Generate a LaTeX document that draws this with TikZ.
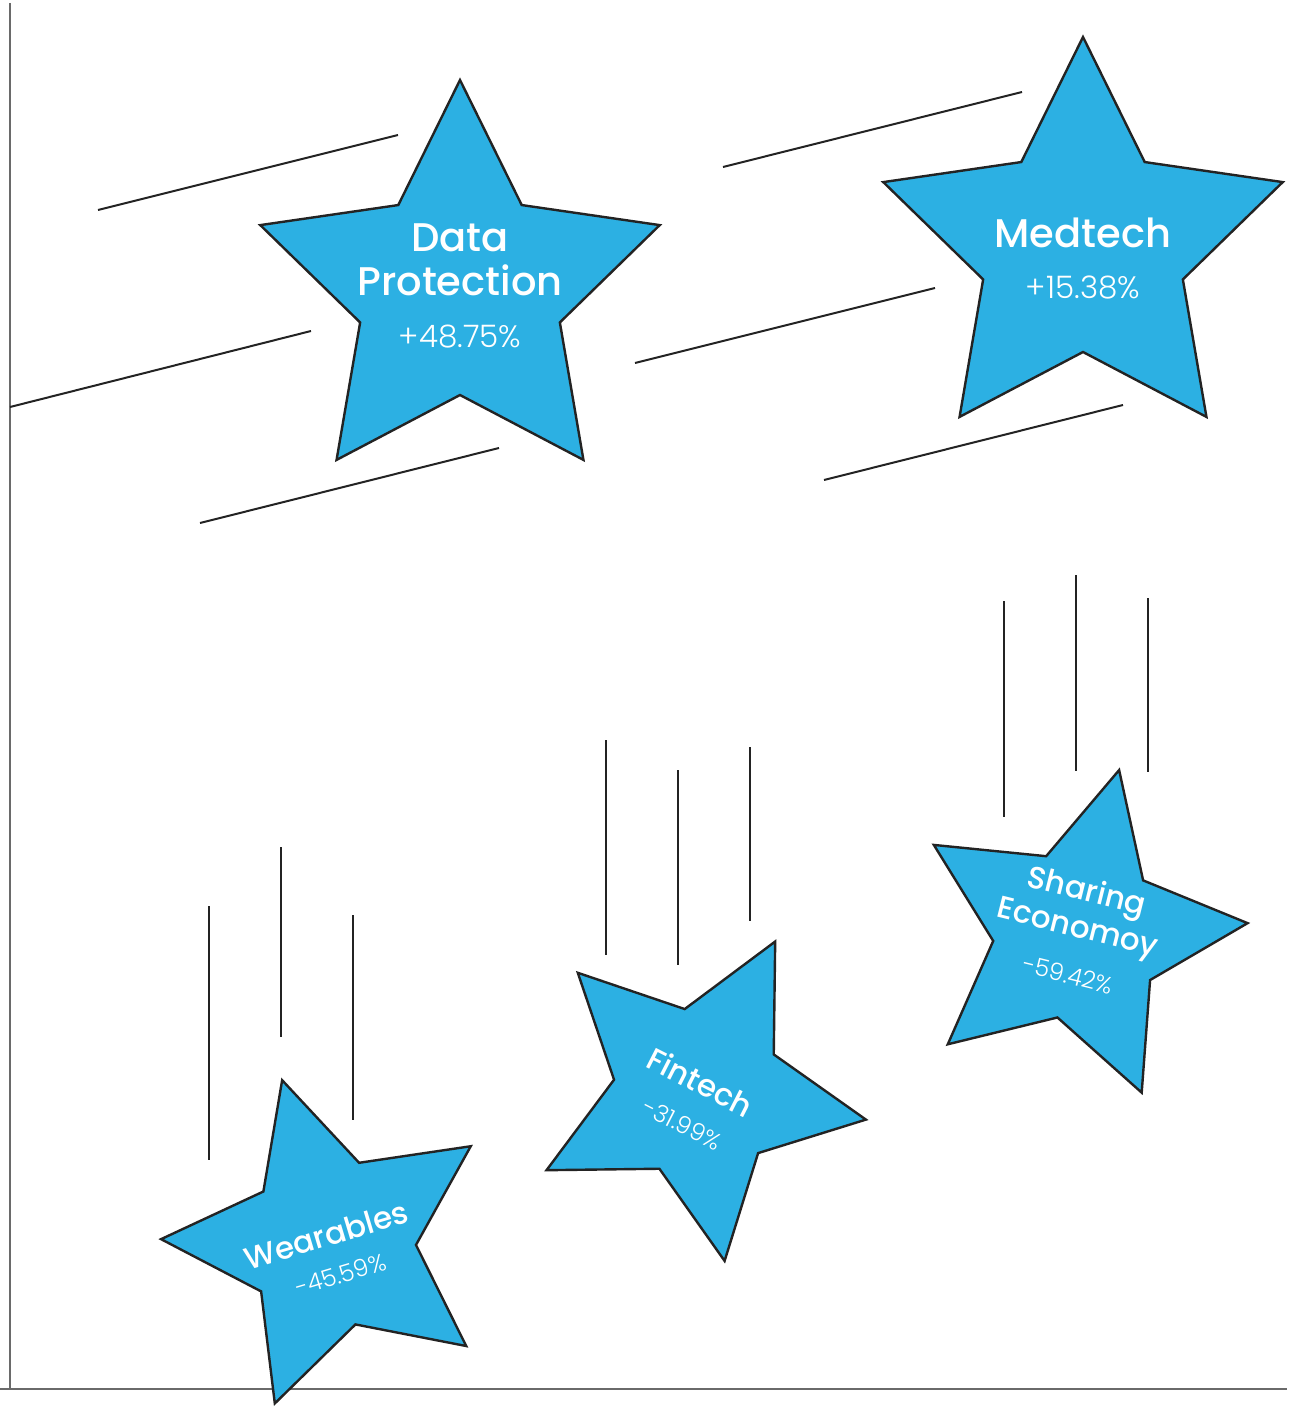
\documentclass[tikz,border=0pt]{standalone}
\usepackage{fontspec}
\setmainfont{Poppins}
\newfontfamily\titlefont{Poppins Medium}
\newfontfamily\numfont{Poppins Light}
\definecolor{starblue}{HTML}{2CB0E3}
\definecolor{inkline}{HTML}{232323}
\definecolor{axisgray}{HTML}{6A6A6A}
\tikzset{
  starshape/.style={fill=starblue, draw=inkline, line width=2.4pt, line join=miter},
  speedline/.style={draw=inkline, line width=2pt},
  axisline/.style={draw=axisgray, line width=2pt},
  bigtitle/.style={text=white, align=center, inner sep=0pt, font=\titlefont\fontsize{40}{44}\selectfont},
  bignum/.style={text=white, inner sep=0pt, font=\numfont\fontsize{31}{36}\selectfont},
  smalltitle/.style={text=white, align=center, inner sep=0pt, font=\titlefont\fontsize{31}{37}\selectfont},
  smallnum/.style={text=white, inner sep=0pt, font=\numfont\fontsize{24}{28}\selectfont},
}
\begin{document}
\begin{tikzpicture}[x=1pt, y=1pt]
\useasboundingbox (0,0) rectangle (1304,-1413);
% axes
\draw [axisline] (10,-3) -- (10,-1389);
\draw [axisline] (0,-1389) -- (1287,-1389);
% speed lines, rising stars
\draw [speedline] (98,-210) -- (398,-135);
\draw [speedline] (10,-407) -- (311,-331);
\draw [speedline] (200,-523) -- (499,-448);
\draw [speedline] (723,-167) -- (1022,-92);
\draw [speedline] (635,-363) -- (935,-288);
\draw [speedline] (824,-480) -- (1123,-405);
% speed lines, falling stars
\draw [speedline] (209,-906) -- (209,-1160);
\draw [speedline] (281,-847) -- (281,-1037);
\draw [speedline] (353,-915) -- (353,-1120);
\draw [speedline] (606,-740) -- (606,-955);
\draw [speedline] (678,-770) -- (678,-965);
\draw [speedline] (750,-747) -- (750,-921);
\draw [speedline] (1004,-601) -- (1004,-817);
\draw [speedline] (1076,-575) -- (1076,-771);
\draw [speedline] (1148,-598) -- (1148,-772);
% Data Protection
\begin{scope}[shift={(460,-290)}]
\draw [starshape] (90:210) -- (126:105) -- (162:210) -- (198:105) -- (234:210) -- (270:105) -- (306:210) -- (342:105) -- (18:210) -- (54:105) -- cycle;
\node [bigtitle, anchor=north] (dp-title) at (0,67) {Data\\Protection};
\node [bignum, anchor=base] (dp-num) at (0,-57) {+48.75\%};
\end{scope}
% Medtech
\begin{scope}[shift={(1083,-247)}]
\draw [starshape] (90:210) -- (126:105) -- (162:210) -- (198:105) -- (234:210) -- (270:105) -- (306:210) -- (342:105) -- (18:210) -- (54:105) -- cycle;
\node [bigtitle, anchor=base] (med-title) at (0,0) {Medtech};
\node [bignum, anchor=base] (med-num) at (0,-51) {+15.38\%};
\end{scope}
% Wearables
\begin{scope}[shift={(331,-1243)}, rotate=16.7, transform shape]
\draw [starshape] (90:170) -- (126:85) -- (162:170) -- (198:85) -- (234:170) -- (270:85) -- (306:170) -- (342:85) -- (18:170) -- (54:85) -- cycle;
\node [smalltitle] (wear-title) at (-2,9) {Wearables};
\node [smallnum] (wear-num) at (0,-33) {-45.59\%};
\end{scope}
% Fintech
\begin{scope}[shift={(698,-1093)}, rotate=-27, transform shape]
\draw [starshape] (90:170) -- (126:85) -- (162:170) -- (198:85) -- (234:170) -- (270:85) -- (306:170) -- (342:85) -- (18:170) -- (54:85) -- cycle;
\node [smalltitle] (fin-title) at (-3,11) {Fintech};
\node [smallnum] (fin-num) at (0,-35) {-31.99\%};
\end{scope}
% Sharing Economoy
\begin{scope}[shift={(1078,-935)}, rotate=-14, transform shape]
\draw [starshape] (90:170) -- (126:85) -- (162:170) -- (198:85) -- (234:170) -- (270:85) -- (306:170) -- (342:85) -- (18:170) -- (54:85) -- cycle;
\node [smalltitle] (share-title) at (-2,24) {Sharing\\Economoy};
\node [smallnum] (share-num) at (0,-41) {-59.42\%};
\end{scope}
\end{tikzpicture}
\end{document}
